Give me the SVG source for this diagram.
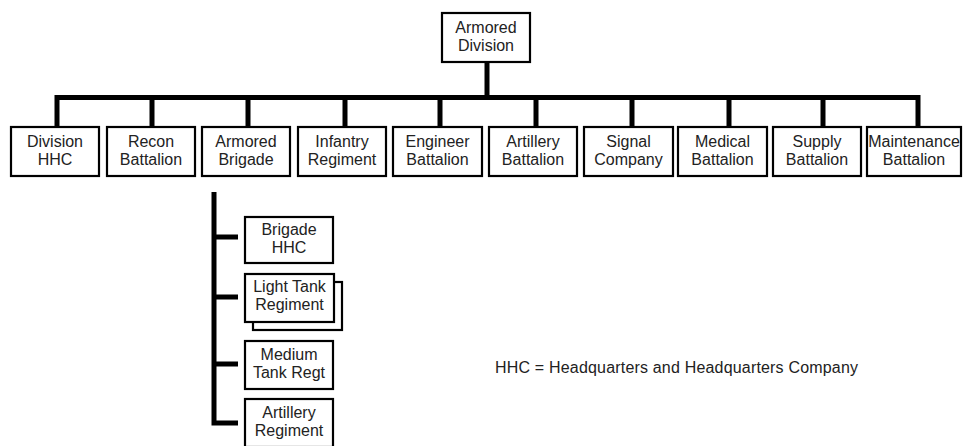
<svg xmlns="http://www.w3.org/2000/svg" width="963" height="446" viewBox="0 0 963 446">
<style>
.box{fill:#fff;stroke:#000;stroke-width:2.2}
.ln{fill:none;stroke:#000;stroke-width:5;stroke-linecap:butt;stroke-linejoin:miter}
text{font-family:"Liberation Sans",Arial,Helvetica,sans-serif;font-size:16px;fill:#222;text-anchor:middle}
.legend{text-anchor:start;font-size:16px}
</style>
<rect width="963" height="446" fill="#fff"/>
<g id="connectors">
<path class="ln" d="M487,62 V97.5"/>
<path class="ln" d="M57,127 V97.5 H918 V127"/>
<path class="ln" d="M152,97.5 V127 M248,97.5 V127 M345,97.5 V127 M440,97.5 V127 M536,97.5 V127 M632,97.5 V127 M729,97.5 V127 M823,97.5 V127"/>
<path class="ln" d="M214,192 V423 H238"/>
<path class="ln" d="M214,237 H238 M214,297 H238 M214,364 H238"/>
</g>
<g id="armored-division"><rect class="box" x="442" y="13" width="88" height="49"/><text x="486" y="32.5">Armored</text><text x="486" y="50.5">Division</text></g>
<g id="division-hhc"><rect class="box" x="11" y="127" width="88" height="49"/><text x="55" y="147">Division</text><text x="55" y="165">HHC</text></g>
<g id="recon-battalion"><rect class="box" x="107" y="127" width="88" height="49"/><text x="151" y="147">Recon</text><text x="151" y="165">Battalion</text></g>
<g id="armored-brigade"><rect class="box" x="202" y="127" width="88" height="49"/><text x="246" y="147">Armored</text><text x="246" y="165">Brigade</text></g>
<g id="infantry-regiment"><rect class="box" x="298" y="127" width="88" height="49"/><text x="342" y="147">Infantry</text><text x="342" y="165">Regiment</text></g>
<g id="engineer-battalion"><rect class="box" x="393" y="127" width="89" height="49"/><text x="437.5" y="147">Engineer</text><text x="437.5" y="165">Battalion</text></g>
<g id="artillery-battalion"><rect class="box" x="489" y="127" width="88" height="49"/><text x="533" y="147">Artillery</text><text x="533" y="165">Battalion</text></g>
<g id="signal-company"><rect class="box" x="584" y="127" width="89" height="49"/><text x="628.5" y="147">Signal</text><text x="628.5" y="165">Company</text></g>
<g id="medical-battalion"><rect class="box" x="678" y="127" width="89" height="49"/><text x="722.5" y="147">Medical</text><text x="722.5" y="165">Battalion</text></g>
<g id="supply-battalion"><rect class="box" x="773" y="127" width="88" height="49"/><text x="817" y="147">Supply</text><text x="817" y="165">Battalion</text></g>
<g id="maintenance-battalion"><rect class="box" x="867" y="127" width="94" height="49"/><text x="914" y="147">Maintenance</text><text x="914" y="165">Battalion</text></g>
<g id="brigade-hhc"><rect class="box" x="245" y="217" width="88" height="46"/><text x="289" y="235">Brigade</text><text x="289" y="253">HHC</text></g>
<g id="light-tank-regiment"><rect class="box" x="253" y="282" width="89" height="48"/><rect class="box" x="245" y="274" width="89" height="48"/><text x="289.5" y="292">Light Tank</text><text x="289.5" y="310">Regiment</text></g>
<g id="medium-tank-regt"><rect class="box" x="245" y="341" width="88" height="48"/><text x="289" y="360">Medium</text><text x="289" y="378">Tank Regt</text></g>
<g id="artillery-regiment"><rect class="box" x="245" y="399" width="88" height="48"/><text x="289" y="418">Artillery</text><text x="289" y="436">Regiment</text></g>
<g id="legend"><text class="legend" x="495" y="373" textLength="363" lengthAdjust="spacing">HHC = Headquarters and Headquarters Company</text></g>
</svg>
